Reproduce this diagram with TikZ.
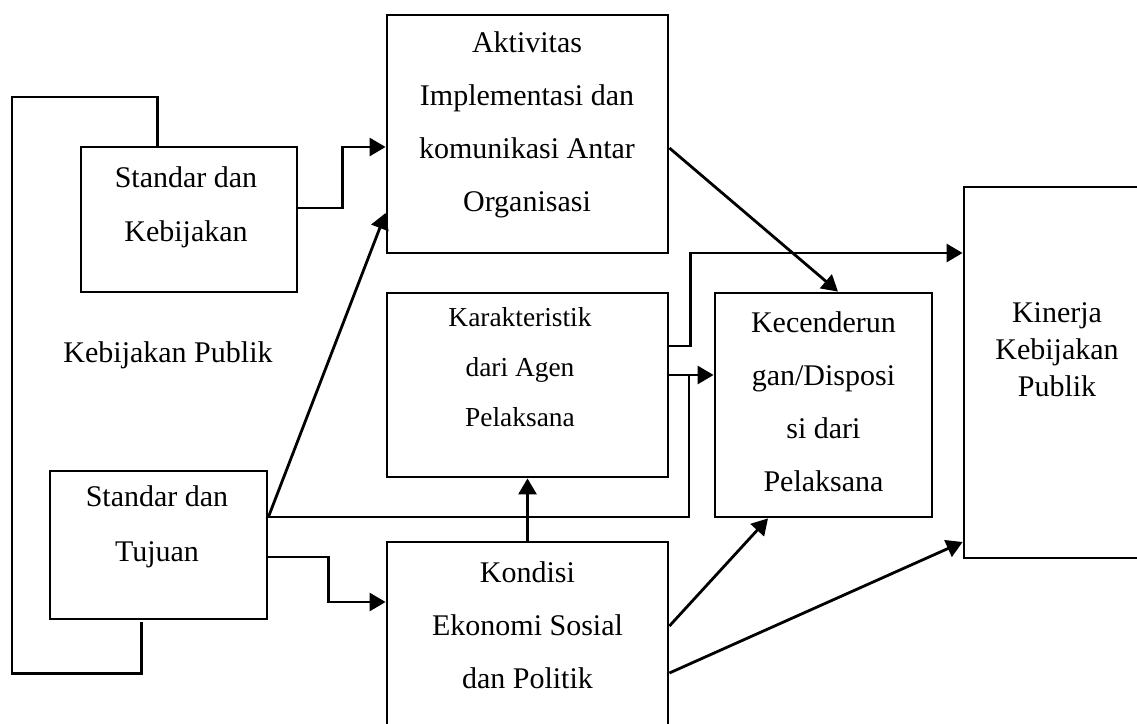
\documentclass[tikz,border=0pt]{standalone}
\usepackage{fontspec}
\setmainfont{Liberation Serif}
\usetikzlibrary{arrows.meta}

\begin{document}
\begin{tikzpicture}[x=0.5pt,y=-0.5pt,
	box/.style={draw,line width=1.4pt,inner sep=0pt},
	txt/.style={align=center,font=\fontsize{15}{26.5}\selectfont},
	line/.style={line width=1.4pt},
	arr/.style={line width=1.4pt,-{Triangle[length=8pt,width=9pt]}}]
	\useasboundingbox (0,0) rectangle (1137,724);
	\clip (0,0) rectangle (1137,724);
	% kotak
	\node[box,minimum width=108pt,minimum height=72.5pt] (sk) at (189,219.5) {};
	\node[box,minimum width=140.5pt,minimum height=119pt] (ak) at (527.5,134) {};
	\node[box,minimum width=140.5pt,minimum height=92pt] (ka) at (527.5,385) {};
	\node[box,minimum width=108.5pt,minimum height=112pt] (kc) at (823.5,405) {};
	\node[box,minimum width=93pt,minimum height=185.5pt] (kp) at (1057,372.5) {};
	\node[box,minimum width=108.5pt,minimum height=74pt] (st) at (158.5,545) {};
	\node[box,minimum width=140.5pt,minimum height=109pt] (ke) at (527.5,651) {};
	% teks
	\node[txt,font=\fontsize{15}{27}\selectfont] (sktxt) at (186,207) {Standar dan\\Kebijakan};
	\node[txt] (aktxt) at (527,125) {Aktivitas\\Implementasi dan\\komunikasi Antar\\Organisasi};
	\node[txt,font=\fontsize{13.7}{25}\selectfont] (katxt) at (520,367) {Karakteristik\\dari Agen\\Pelaksana};
	\node[txt] (kctxt) at (823.5,402) {Kecenderun\\gan/Disposi\\si dari\\Pelaksana};
	\node[txt,font=\fontsize{15}{18.5}\selectfont] (kptxt) at (1057,350) {Kinerja\\Kebijakan\\Publik};
	\node[txt,font=\fontsize{15}{27.5}\selectfont] (sttxt) at (157,527) {Standar dan\\Tujuan};
	\node[txt] (ketxt) at (527.5,625) {Kondisi\\Ekonomi Sosial\\dan Politik};
	\node[txt] (kp2) at (168,355) {Kebijakan Publik};
	\coordinate (jn) at (689,375);
	% garis
	\draw[line] ([xshift=46.5pt,yshift=-1pt]st.south west) -- ++(0,51) -| (12,97) -| ([xshift=39pt]sk.north west);
	\draw[arr] ([yshift=5.75pt]sk.east) -- ++(44,0) |- ([yshift=-6.5pt]ak.west);
	\draw[arr] ([yshift=14pt]st.east) -- ([yshift=-39.5pt]ak.west);
	\draw[line] ([yshift=14pt]st.east) -| (jn);
	\draw[arr] ([yshift=5pt]ka.east) -- ([yshift=15pt]kc.west);
	\draw[arr] ([yshift=19.5pt]ka.east) -- ++(21,0) |- ([yshift=59.75pt]kp.west);
	\draw[arr] ([yshift=-7pt]ak.east) -- ([xshift=7.25pt]kc.north);
	\draw[arr] (ke.north) -- (ka.south);
	\draw[arr] ([yshift=-6pt]st.east) -- ++(60,0) |- ([yshift=24.5pt]ke.west);
	\draw[arr] ([yshift=12.5pt]ke.east) -- ([xshift=-27.75pt]kc.south);
	\draw[arr] ([yshift=-11pt]ke.east) -- ([yshift=-84.75pt]kp.west);
\end{tikzpicture}
\end{document}
